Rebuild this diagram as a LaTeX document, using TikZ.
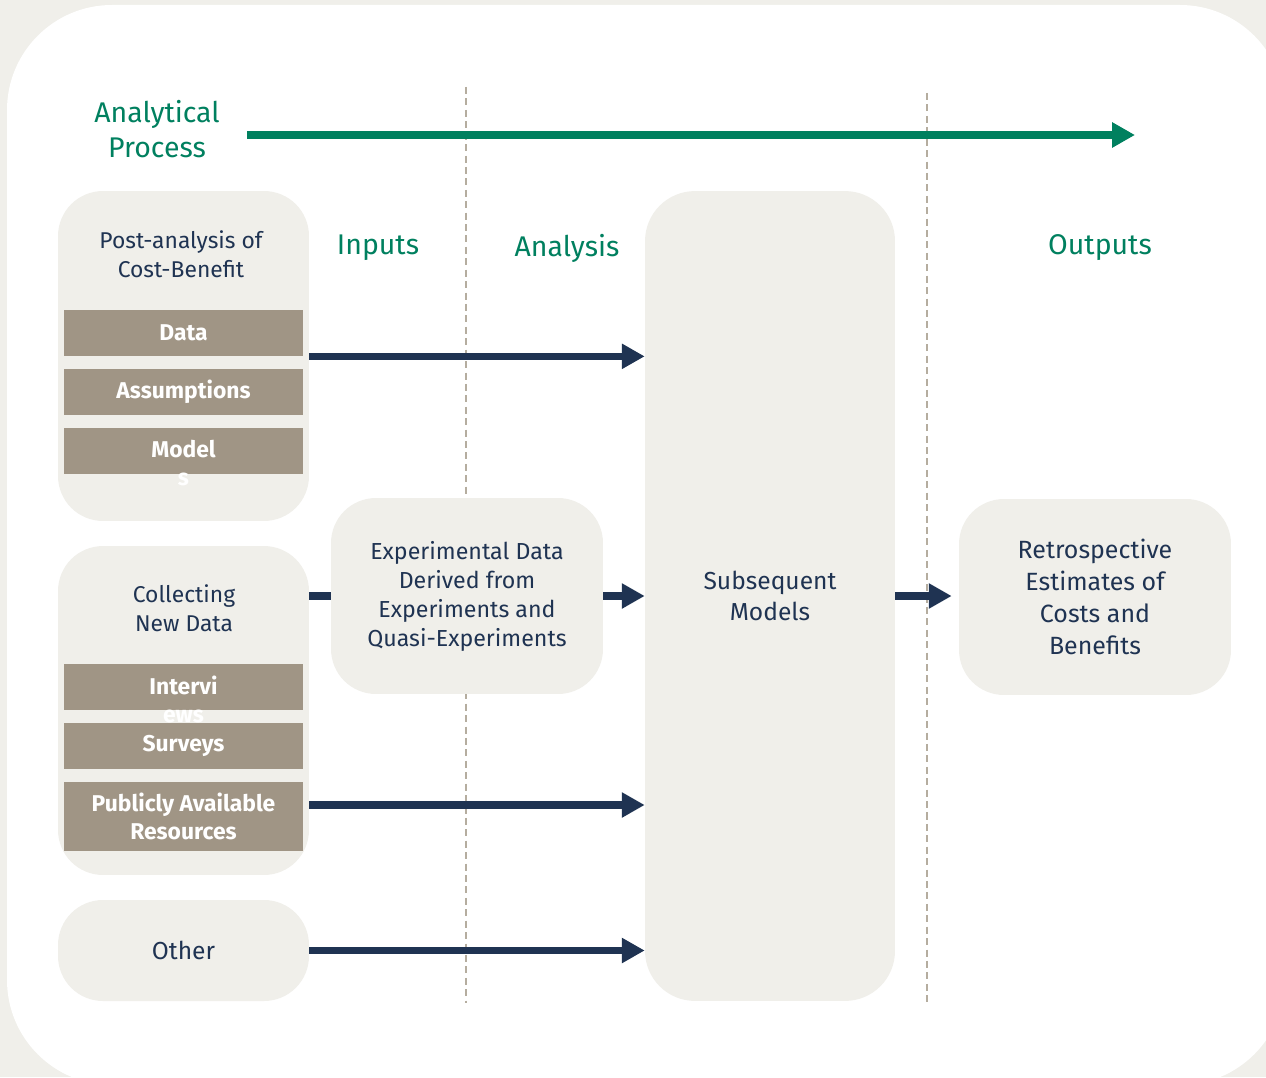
\documentclass[tikz,border=0pt]{standalone}
\usepackage{fontspec}
\setmainfont{Fira Sans}
\usetikzlibrary{arrows.meta}

\definecolor{procgreen}{HTML}{00805F}
\definecolor{navy}{HTML}{1F3352}
\definecolor{taupe}{HTML}{A09585}
\definecolor{panelgrey}{HTML}{F0EFEA}
\definecolor{divider}{HTML}{B5AD9F}

\tikzset{
  panel/.style={fill=panelgrey, rounded corners=0.9cm, minimum width=5.02cm},
  wide panel/.style={panel, minimum width=5.44cm, minimum height=3.92cm,
    text=navy, align=center, font=\fontsize{13.2}{16.5}\selectfont},
  paneltext/.style={text=navy, align=center, font=\fontsize{13}{16.5}\selectfont},
  bigtext/.style={text=navy, align=center, font=\fontsize{14}{18}\selectfont},
  bar/.style={fill=taupe, minimum width=4.78cm, minimum height=0.92cm, inner sep=0pt,
    text=white, align=center, font=\bfseries\fontsize{13}{16}\selectfont},
  heading/.style={text=procgreen, font=\fontsize{16.2}{20}\selectfont},
  flow/.style={navy, line width=4pt, -{Triangle[length=13pt,width=13.6pt]}},
  stub/.style={navy, line width=4pt},
  divline/.style={divider, line width=0.8pt, dash pattern=on 4pt off 2.5pt},
}

\begin{document}
\begin{tikzpicture}[x=0.02cm, y=-0.02cm]
\useasboundingbox (0,0) rectangle (1266,1077);
\fill[panelgrey] (0,0) rectangle (1266,1077);
\fill[white, rounded corners=2.1cm] (7,5) rectangle (1285,1085);

% column dividers
\draw[divline] (466,87) -- (466,1003);
\draw[divline] (927,93) -- (927,1003);

% process arrow and headings
\node[heading, align=center] (process) at (157,129) {Analytical\\Process};
\coordinate (pstart) at (247,135);
\coordinate (pend) at (1135,135);
\draw[procgreen, line width=4pt, -{Triangle[length=13pt,width=13.6pt]}] (pstart) -- (pend);
\node[heading] (inputs) at (378,248) {Inputs};
\node[heading] (analysis) at (567,248) {Analysis};
\node[heading] (outputs) at (1100,248) {Outputs};

% input panels
\node[panel, minimum height=6.6cm] (post) at (183.5,356) {};
\node[paneltext] (posttitle) at (181,254) {Post-analysis of\\Cost-Benefit};
\node[bar] (data) at (183.5,333) {Data};
\node[bar] (assump) at (183.5,392) {Assumptions};
\node[bar, text depth=0.25em] (model) at (183.5,451) {\parbox[t]{4cm}{\centering Model\\s}};

\node[panel, minimum height=6.58cm] (collect) at (183.5,710.5) {};
\node[paneltext] (collecttitle) at (184,608) {Collecting\\New Data};
\node[bar, text depth=0.25em] (interv) at (183.5,687) {\parbox[t]{4cm}{\centering Intervi\\ews}};
\node[bar] (surveys) at (183.5,746) {Surveys};
\node[bar, minimum height=1.38cm] (public) at (183.5,816.5) {Publicly Available\\Resources};

\node[panel, minimum height=2.02cm, bigtext] (other) at (183.5,950.5) {Other};

% analysis and outputs
\node[wide panel] (exp) at (467,596) {Experimental Data\\Derived from\\Experiments and\\Quasi-Experiments};
\node[panel, minimum width=5cm, minimum height=16.2cm, rounded corners=1cm, bigtext] (models) at (770,596) {Subsequent\\Models};
\node[wide panel, font=\fontsize{14.2}{18.1}\selectfont] (retro) at (1095,597) {Retrospective\\Estimates of\\Costs and\\Benefits};

% connectors
\coordinate (pubrow) at (0,805);
\coordinate (midrow) at (0,596);
\draw[flow] (post.east |- data.south) -- (models.west |- data.south);
\draw[stub] (collect.east |- midrow) -- (exp.west |- midrow);
\draw[flow] (exp.east |- midrow) -- (models.west |- midrow);
\draw[flow, shorten >=4pt] (models.east |- midrow) -- (retro.west |- midrow);
\draw[flow] (collect.east |- pubrow) -- (models.west |- pubrow);
\draw[flow] (other.east) -- (models.west |- other.east);
\end{tikzpicture}
\end{document}
